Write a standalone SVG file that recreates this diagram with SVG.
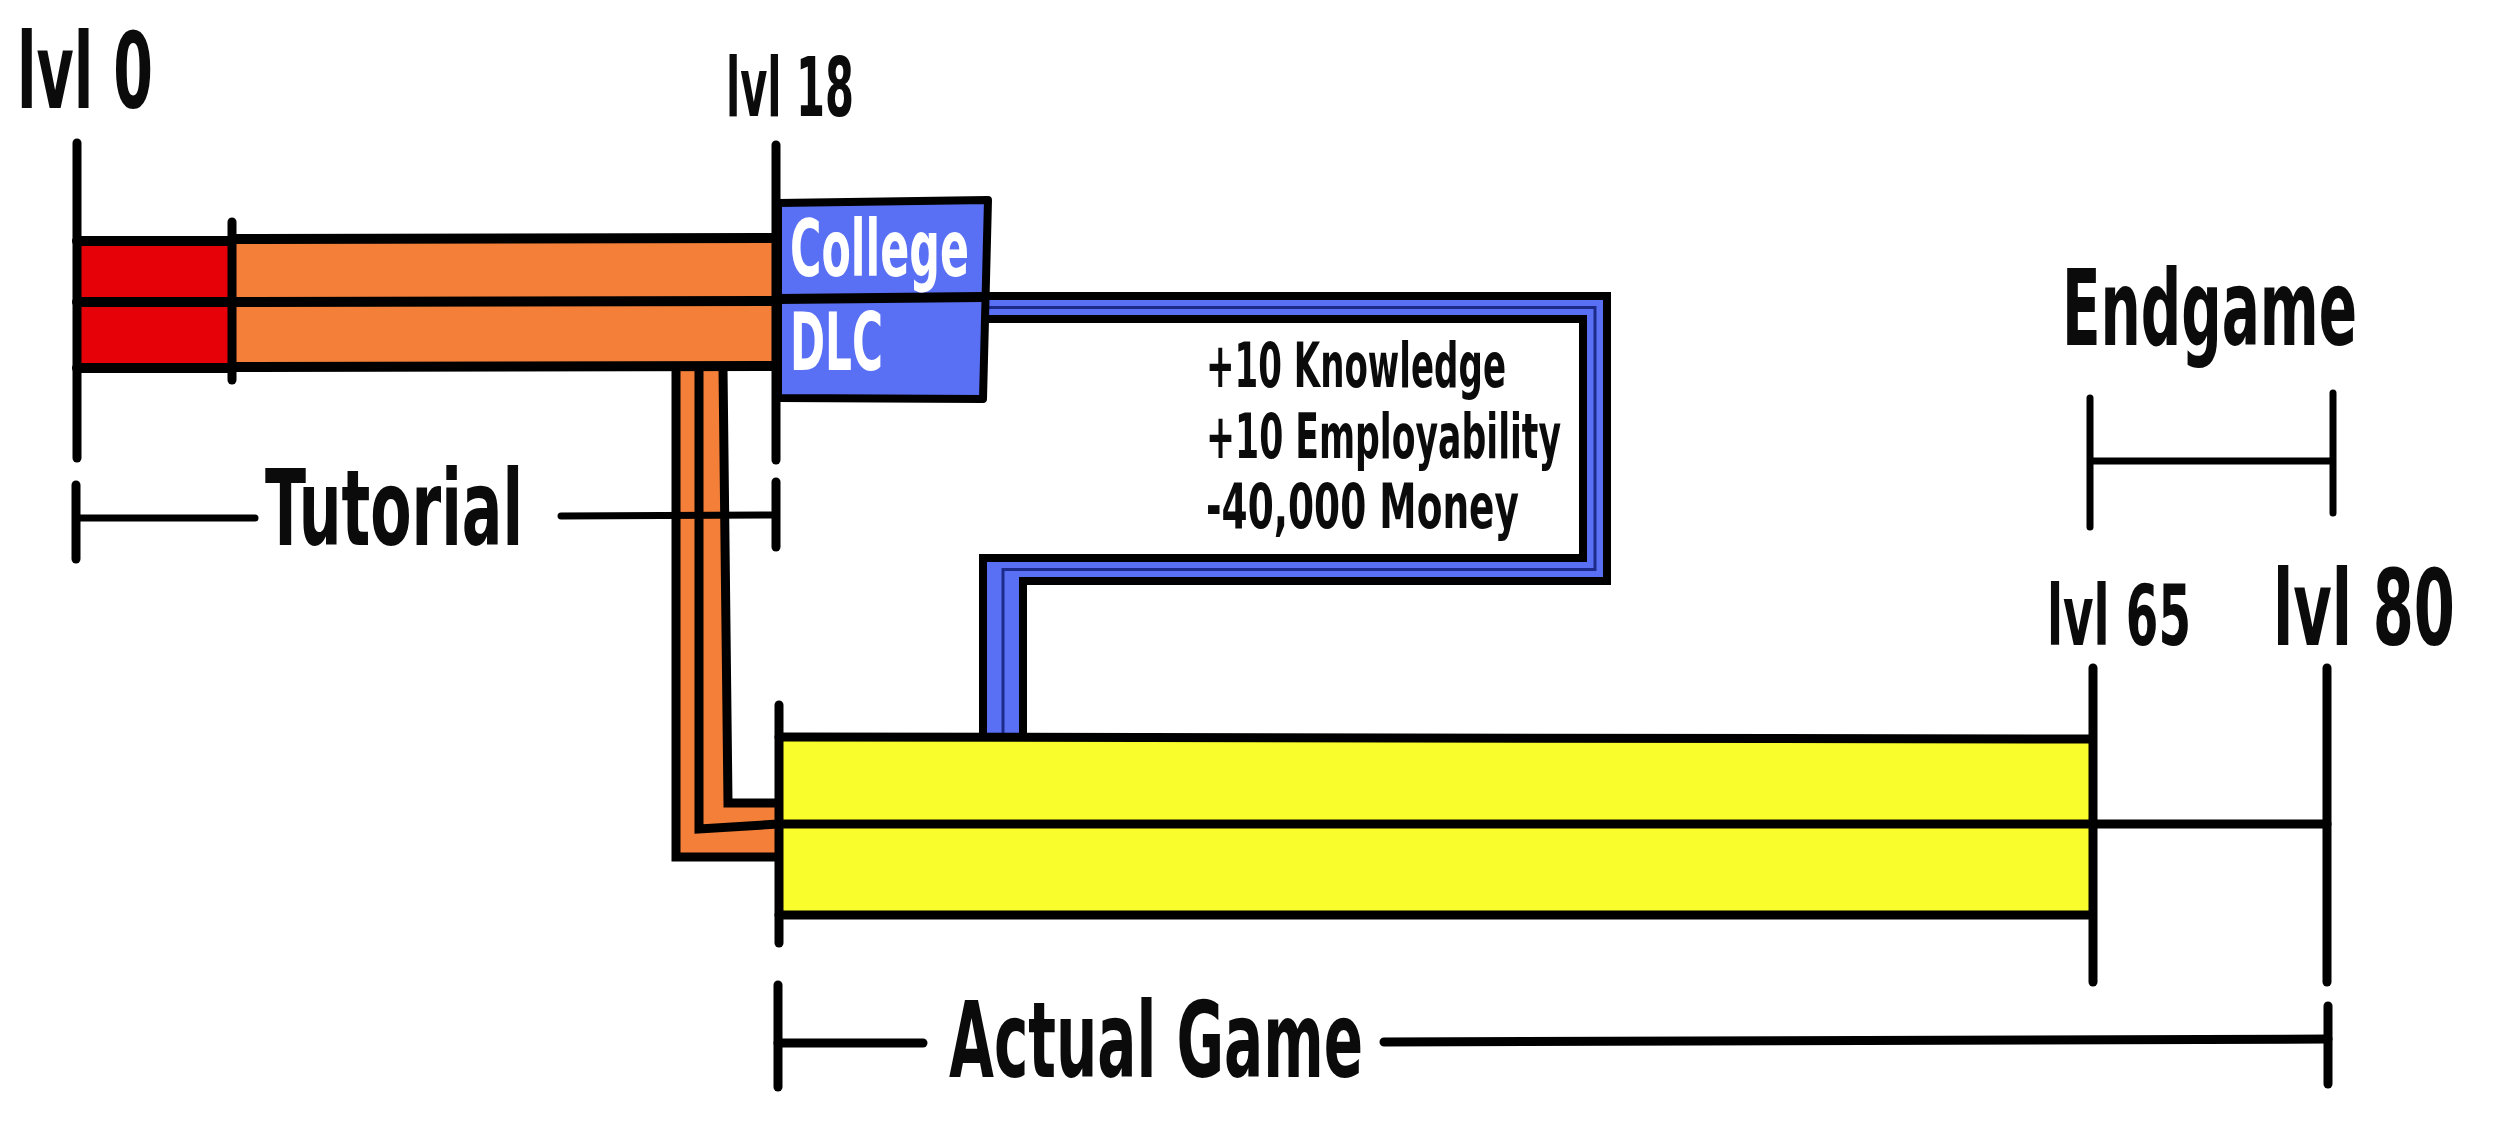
<svg xmlns="http://www.w3.org/2000/svg" width="2500" height="1132" viewBox="0 0 2500 1132">
<style>
.ln{stroke:#000;stroke-width:9;stroke-linecap:round;fill:none}
.th{stroke:#000;stroke-width:7;stroke-linecap:round;fill:none}
.bd{stroke:#000;stroke-width:10;stroke-linecap:round;fill:none}
.red{fill:#e60008}
.org{fill:#f37f38}
.blu{fill:#5a70f4}
.yel{fill:#fafd2c}
text{font-family:"Liberation Sans Narrow","DejaVu Sans Condensed","Liberation Sans",sans-serif;font-weight:bold;fill:#0b0b0b;font-stretch:condensed}
text.w{fill:#fff}
</style>
<rect width="2500" height="1132" fill="#fff"/>

<g id="connectors">
  <g id="orange-connector">
    <path class="org" d="M675,368 L723,368 L728,803 L778,803 L778,857 L675,857 Z"/>
    <path class="ln" d="M676,368 L676,857 L778,857"/>
    <path class="ln" d="M699,368 L699,829 L778,824"/>
    <path class="ln" d="M723,368 L728,803 L778,803"/>
  </g>
  <g id="blue-connector">
    <path fill="#000" d="M983,292 L1611,292 L1611,585 L1027,585 L1027,740 L979,740 L979,554 L1579,554 L1579,323 L983,323 Z"/>
    <path class="blu" d="M983,300 L1603,300 L1603,577 L1019,577 L1019,737 L987,737 L987,562 L1587,562 L1587,315 L983,315 Z"/>
    <path d="M983,307.5 L1595,307.5 L1595,569.5 L1003,569.5 L1003,737" fill="none" stroke="#1c2a8a" stroke-width="3"/>
  </g>
</g>

<g id="tutorial-bar">
  <rect class="red" x="77" y="241" width="155" height="127"/>
  <rect class="org" x="232" y="238" width="544" height="129"/>
  <path class="bd" d="M77,241 L228,241 M77,302 L232,302 M77,368 L228,368"/>
  <path class="bd" d="M232,239 L776,238 M232,302 L776,301 M232,367 L776,366"/>
  <path class="ln" d="M232,222 L232,380"/>
</g>

<g id="college-dlc">
  <path class="blu" d="M778,203 L988,200 L983,399 L778,398 Z" stroke="#000" stroke-width="8" stroke-linejoin="round"/>
  <path class="bd" stroke-width="8" d="M778,299 L983,297"/>
  <text class="w" x="790" y="276" font-size="78" textLength="179" lengthAdjust="spacingAndGlyphs">College</text>
  <text class="w" x="790" y="370" font-size="80" textLength="93" lengthAdjust="spacingAndGlyphs">DLC</text>
</g>

<g id="actual-game-bar">
  <rect class="yel" x="779" y="737" width="1311" height="178"/>
  <path class="ln" stroke-width="8" d="M779,737 L2090,739 M779,915 L2090,915"/>
  <path class="ln" stroke-width="9" d="M779,824 L2327,824"/>
  <path class="ln" d="M779,705 L779,943"/>
</g>

<g id="level-markers">
  <path class="ln" d="M77,143 L77,458"/>
  <path class="ln" d="M776,145 L776,460"/>
  <path class="ln" d="M2093,668 L2093,982"/>
  <path class="ln" d="M2327,668 L2327,982"/>
  <text x="17" y="108" font-size="105" textLength="136" lengthAdjust="spacingAndGlyphs">lvl 0</text>
  <text x="726" y="116" font-size="82" textLength="128" lengthAdjust="spacingAndGlyphs">lvl 18</text>
  <text x="2047" y="645" font-size="84" textLength="144" lengthAdjust="spacingAndGlyphs">lvl 65</text>
  <text x="2273" y="645" font-size="105" textLength="182" lengthAdjust="spacingAndGlyphs">lvl 80</text>
</g>

<g id="tutorial-bracket">
  <path class="ln" d="M76,485 L76,559"/>
  <path class="th" d="M76,518 L255,518"/>
  <path class="th" d="M561,516 L776,515"/>
  <path class="ln" d="M776,482 L776,547"/>
  <text x="265" y="545" font-size="105" textLength="258" lengthAdjust="spacingAndGlyphs">Tutorial</text>
</g>

<g id="college-effects">
  <text x="1206" y="387" font-size="63" textLength="300" lengthAdjust="spacingAndGlyphs">+10 Knowledge</text>
  <text x="1206" y="458" font-size="63" textLength="355" lengthAdjust="spacingAndGlyphs">+10 Employability</text>
  <text x="1206" y="528" font-size="63" textLength="313" lengthAdjust="spacingAndGlyphs">-40,000 Money</text>
</g>

<g id="endgame-bracket">
  <path class="th" d="M2090,398 L2090,527 M2333,393 L2333,513 M2090,461 L2333,461"/>
  <text x="2062" y="345" font-size="106" textLength="295" lengthAdjust="spacingAndGlyphs">Endgame</text>
</g>

<g id="actual-game-bracket">
  <path class="ln" d="M778,985 L778,1087"/>
  <path class="ln" stroke-width="8" d="M778,1043 L923,1043"/>
  <path class="ln" stroke-width="8" d="M1384,1042 L2328,1039"/>
  <path class="ln" d="M2328,1006 L2328,1084"/>
  <text x="949" y="1077" font-size="105" textLength="414" lengthAdjust="spacingAndGlyphs">Actual Game</text>
</g>
</svg>
